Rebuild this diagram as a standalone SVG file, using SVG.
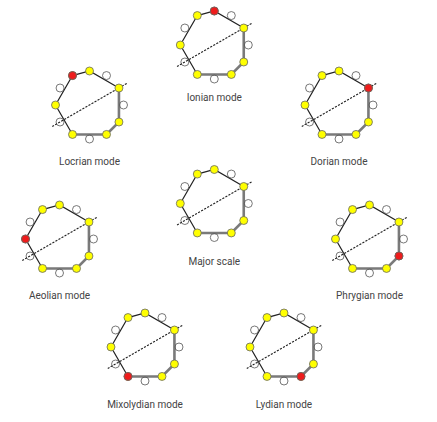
<svg xmlns="http://www.w3.org/2000/svg" xmlns:xlink="http://www.w3.org/1999/xlink" width="437" height="422" viewBox="0 0 437 422">
<style>
.lbl{font-family:Roboto,"Liberation Sans",sans-serif;font-size:10px;fill:#444;text-anchor:middle}
.dark{fill:none;stroke:#222;stroke-width:1.2}
.gray{fill:none;stroke:#7a7a7a;stroke-width:2.6}
.axis{fill:none;stroke:#222;stroke-width:1.1;stroke-dasharray:2.2,1.3}
.off{fill:none;stroke:#555;stroke-width:0.8}
.on{fill:#ffff00;stroke:#666;stroke-width:0.8}
.root{fill:#ee1c1c;stroke:#666;stroke-width:0.8}
</style>
<defs>
<g id="scale">
<polyline class="dark" points="29.445,-17 0,-34 -17,-29.445 -34,0 -17,29.445"/>
<polyline class="gray" points="29.445,-17 29.445,17 17,29.445 -17,29.445"/>
<circle class="off" cx="17" cy="-29.445" r="4"/>
<circle class="off" cx="34" cy="0" r="4"/>
<circle class="off" cx="0" cy="34" r="4"/>
<circle class="off" cx="-29.445" cy="17" r="4"/>
<circle class="off" cx="-29.445" cy="-17" r="4"/>
<line class="axis" x1="37.24" y1="-21.5" x2="-37.24" y2="21.5"/>
<circle class="on" cx="0" cy="-34" r="4"/>
<circle class="on" cx="29.445" cy="-17" r="4"/>
<circle class="on" cx="29.445" cy="17" r="4"/>
<circle class="on" cx="17" cy="29.445" r="4"/>
<circle class="on" cx="-17" cy="29.445" r="4"/>
<circle class="on" cx="-34" cy="0" r="4"/>
<circle class="on" cx="-17" cy="-29.445" r="4"/>
</g>
</defs>
<g id="connectors"></g>
<g id="ionian" transform="translate(214.3,45)">
<use xlink:href="#scale" href="#scale"/>
<circle class="root" cx="0" cy="-34" r="4"/>
<text class="lbl" x="0" y="55.5">Ionian mode</text>
</g>
<g id="dorian" transform="translate(339,105)">
<use xlink:href="#scale" href="#scale"/>
<circle class="root" cx="29.445" cy="-17" r="4"/>
<text class="lbl" x="0" y="59.5">Dorian mode</text>
</g>
<g id="phrygian" transform="translate(369.5,239)">
<use xlink:href="#scale" href="#scale"/>
<circle class="root" cx="29.445" cy="17" r="4"/>
<text class="lbl" x="0" y="59.5">Phrygian mode</text>
</g>
<g id="lydian" transform="translate(284,347)">
<use xlink:href="#scale" href="#scale"/>
<circle class="root" cx="17" cy="29.445" r="4"/>
<text class="lbl" x="0" y="60.5">Lydian mode</text>
</g>
<g id="mixolydian" transform="translate(145,347)">
<use xlink:href="#scale" href="#scale"/>
<circle class="root" cx="-17" cy="29.445" r="4"/>
<text class="lbl" x="0" y="60.5">Mixolydian mode</text>
</g>
<g id="aeolian" transform="translate(59.5,239)">
<use xlink:href="#scale" href="#scale"/>
<circle class="root" cx="-34" cy="0" r="4"/>
<text class="lbl" x="0" y="59.5">Aeolian mode</text>
</g>
<g id="locrian" transform="translate(89.5,105)">
<use xlink:href="#scale" href="#scale"/>
<circle class="root" cx="-17" cy="-29.445" r="4"/>
<text class="lbl" x="0" y="59.5">Locrian mode</text>
</g>
<g id="major" transform="translate(214.3,203.5)">
<use xlink:href="#scale" href="#scale"/>
<text class="lbl" x="0" y="61">Major scale</text>
</g>
</svg>
